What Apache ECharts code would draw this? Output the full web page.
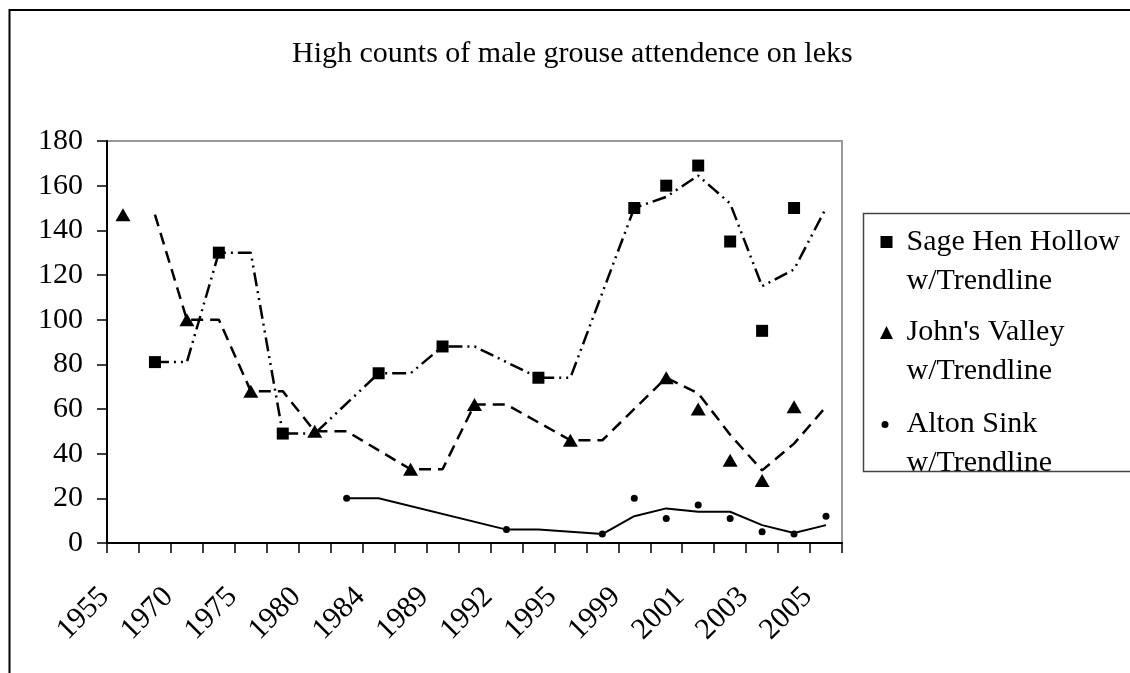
<!DOCTYPE html>
<html lang="en">

<head>
    <meta charset="utf-8">
    <title>High counts of male grouse attendence on leks</title>
    <script type="text/javascript" src="https://cdn.jsdelivr.net/npm/echarts@6.0.0/dist/echarts.min.js"></script>
    <style>
        html, body { margin: 0; padding: 0; background: #fff; }
        #chart-container { width: 1130px; height: 673px; }
    </style>
</head>

<body>
    <div id="chart-container"></div>

    <script>
        // tick labels, every other category carries a year
        const years = ['1955', '', '1970', '', '1975', '', '1980', '', '1984', '', '1989', '',
            '1992', '', '1995', '', '1999', '', '2001', '', '2003', '', '2005'];

        // counts (null = no count that year)
        const sageHen = [null, 81, null, 130, null, 49, null, null, 76, null, 88, null,
            null, 74, null, null, 150, 160, 169, 135, 95, 150, null];
        const johnsValley = [147, null, 100, null, 68, null, 50, null, null, 33, null, 62,
            null, null, 46, null, null, 74, 60, 37, 28, 61, null];
        const altonSink = [null, null, null, null, null, null, null, 20, null, null, null, null,
            6, null, null, 4, 20, 11, 17, 11, 5, 4, 12];

        // trendlines as drawn
        const sageHenTrend = [null, 81, 81, 130, 130, 49, 49, null, 76, 76, 88, 88,
            null, 74, 74, null, 150, 155, 164.5, 152, 115, 122.5, 150];
        const johnsValleyTrend = [null, 147, 100, 100, 68, 68, 50, 50, null, 33, 33, 62,
            62, null, 46, 46, null, 74, 67, 48.5, 32.5, 44.5, 61];
        const altonSinkTrend = [null, null, null, null, null, null, null, 20, 20, null, null, null,
            6, 6, null, 4, 12, 15.5, 14, 14, 8, 4.5, 8];

        const FONT = 'Liberation Serif';
        const LH = 39;

        const chart = echarts.init(document.getElementById('chart-container'));

        // one legend per site so each icon can have its own size;
        // blank first line keeps the icon level with the name line
        function legendFor(name, size, left, top, padLeft) {
            return {
                orient: 'vertical',
                left: left,
                top: top,
                padding: 0,
                itemWidth: size,
                itemHeight: size,
                selectedMode: false,
                data: [name],
                formatter: function (n) { return '\n' + n + '\nw/Trendline'; },
                textStyle: {
                    fontFamily: FONT,
                    fontSize: 30,
                    lineHeight: LH,
                    color: '#000',
                    padding: [0, 0, 0, padLeft]
                }
            };
        }

        const option = {
            animation: false,
            title: {
                text: 'High counts of male grouse attendence on leks',
                left: 287,
                top: 34,
                textStyle: { fontFamily: FONT, fontSize: 30, fontWeight: 'normal', color: '#000' }
            },
            graphic: [{
                type: 'rect',
                silent: true,
                shape: { x: 9.5, y: 10, width: 1400, height: 900 },
                style: { fill: 'none', stroke: '#000', lineWidth: 2 }
            }, {
                type: 'rect',
                silent: true,
                shape: { x: 863.5, y: 213.5, width: 400, height: 258 },
                style: { fill: 'none', stroke: '#444', lineWidth: 1.5 }
            }],
            legend: [
                legendFor('Sage Hen Hollow', 12, 880.5, 248 - 1.5 * LH - 6, 9),
                legendFor("John's Valley", 13, 880, 339 - 1.5 * LH - 6.5, 8.5),
                legendFor('Alton Sink', 7, 881.5, 428 - 1.5 * LH - 3.5, 13)
            ],
            grid: {
                left: 107,
                right: 288,
                top: 141,
                bottom: 130,
                show: true,
                borderColor: '#999',
                borderWidth: 2
            },
            xAxis: {
                type: 'category',
                data: years,
                boundaryGap: true,
                axisLine: { lineStyle: { color: '#000', width: 2 } },
                axisTick: { show: true, interval: 0, length: 10, lineStyle: { color: '#000', width: 1.5 } },
                axisLabel: {
                    interval: 0,
                    rotate: 45,
                    margin: 31,
                    padding: [0, 26, 0, 0],
                    fontFamily: FONT,
                    fontSize: 30,
                    color: '#000'
                },
                splitLine: { show: false }
            },
            yAxis: {
                type: 'value',
                min: 0,
                max: 180,
                interval: 20,
                axisLine: { show: true, lineStyle: { color: '#000', width: 2 } },
                axisTick: { show: true, length: 10, lineStyle: { color: '#000', width: 1.5 } },
                axisLabel: { margin: 24, fontFamily: FONT, fontSize: 30, color: '#000' },
                splitLine: { show: false }
            },
            series: [{
                name: 'Sage Hen Hollow trend',
                type: 'line',
                data: sageHenTrend,
                connectNulls: true,
                showSymbol: false,
                lineStyle: { color: '#000', width: 2.5, type: [14, 5, 2, 5, 2, 5] },
                z: 2
            }, {
                name: "John's Valley trend",
                type: 'line',
                data: johnsValleyTrend,
                connectNulls: true,
                showSymbol: false,
                lineStyle: { color: '#000', width: 2.5, type: [12, 7] },
                z: 2
            }, {
                name: 'Alton Sink trend',
                type: 'line',
                data: altonSinkTrend,
                connectNulls: true,
                showSymbol: false,
                lineStyle: { color: '#000', width: 2 },
                z: 2
            }, {
                name: 'Sage Hen Hollow',
                type: 'scatter',
                data: sageHen,
                symbol: 'rect',
                symbolSize: 12,
                itemStyle: { color: '#000', opacity: 1 },
                z: 3
            }, {
                name: "John's Valley",
                type: 'scatter',
                data: johnsValley,
                symbol: 'triangle',
                symbolSize: [15, 13],
                itemStyle: { color: '#000', opacity: 1 },
                z: 3
            }, {
                name: 'Alton Sink',
                type: 'scatter',
                data: altonSink,
                symbol: 'circle',
                symbolSize: 7,
                itemStyle: { color: '#000', opacity: 1 },
                z: 3
            }]
        };

        chart.setOption(option);
    </script>
</body>

</html>
